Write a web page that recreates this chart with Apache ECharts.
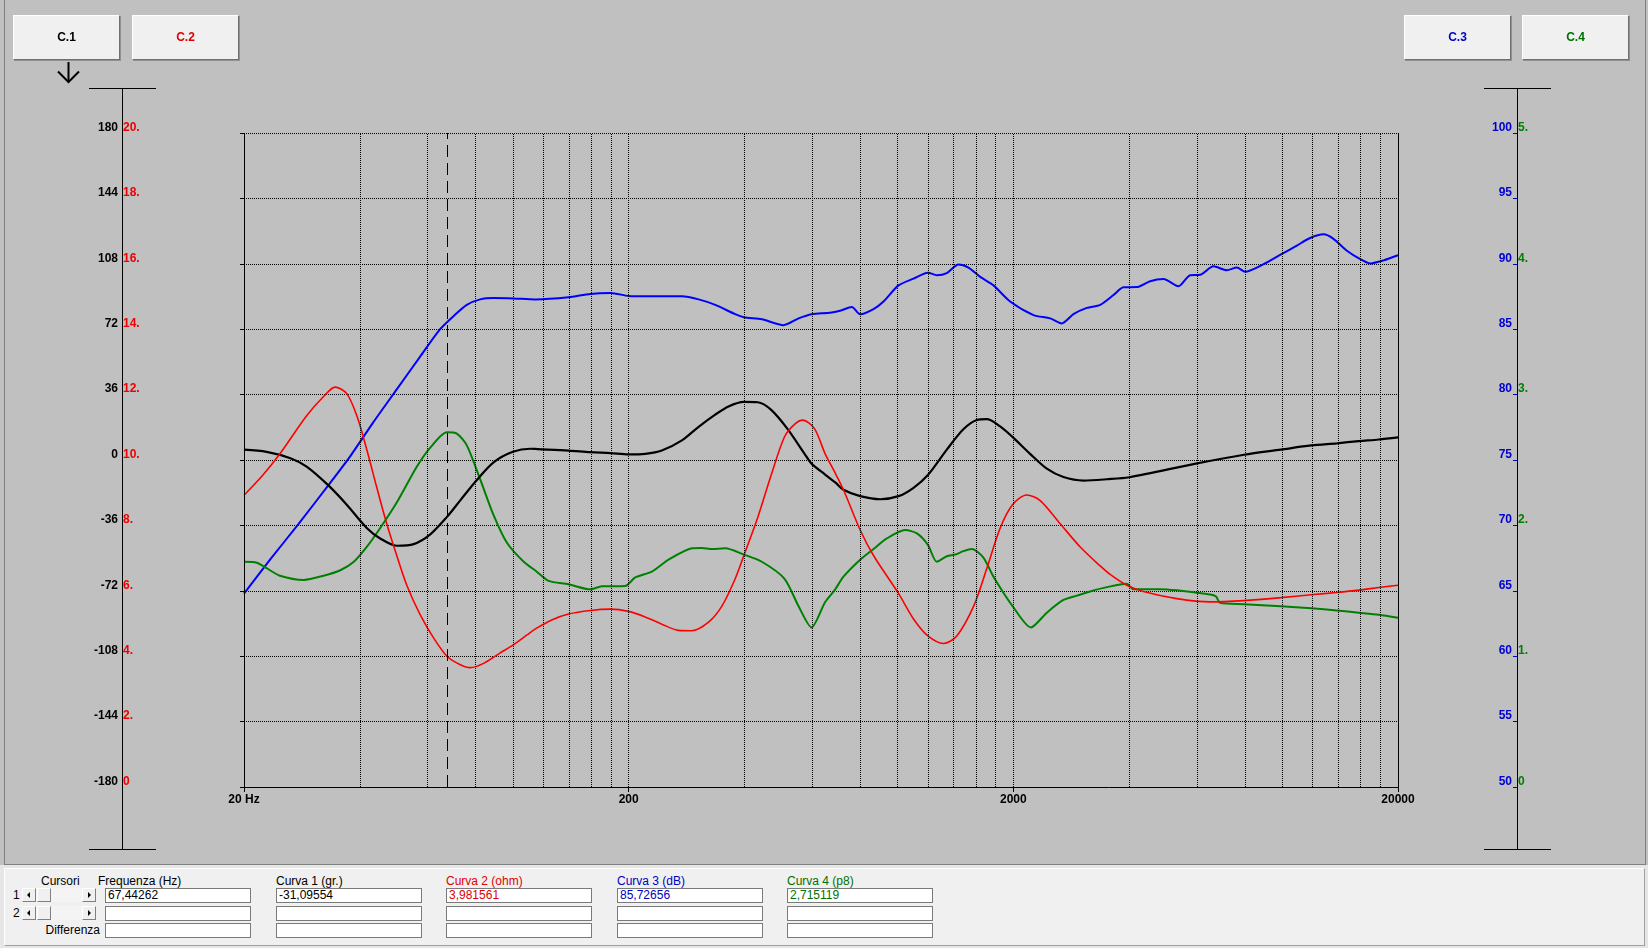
<!DOCTYPE html>
<html>
<head>
<meta charset="utf-8">
<script src="https://cdn.jsdelivr.net/npm/echarts@6/dist/echarts.min.js"></script>
<style>
  html, body { margin:0; padding:0; width:1648px; height:948px; overflow:hidden; background:#c0c0c0; font-family:"Liberation Sans", Arial, sans-serif; }
  #frame { position:absolute; left:4px; top:-1px; width:1642px; height:866px; box-sizing:border-box; border:1px solid #808080; z-index:0; }
  #chart { position:absolute; left:0; top:0; width:1648px; height:948px; z-index:1; }
  .btn { position:absolute; z-index:2; box-sizing:border-box; background:#f0f0f0; border:1px solid; border-color:#ffffff #707070 #707070 #ffffff; box-shadow:1px 1px 0 #909090; font-weight:bold; font-size:12px; text-align:center; }
  #bottomArea { position:absolute; left:0; top:865px; width:1648px; height:83px; background:#e6e6e6; z-index:2; }
  #panel { position:absolute; left:4px; top:3px; width:1641px; height:78px; box-sizing:border-box; background:#f0f0f0; border:1px solid; border-color:#ffffff #a0a0a0 #a0a0a0 #ffffff; }
  .lbl { position:absolute; font-size:12px; white-space:nowrap; line-height:14px; }
  .box { position:absolute; box-sizing:border-box; width:146px; height:15px; background:#fff; border:1px solid #7a7a7a; font-size:12px; line-height:13px; padding-left:2px; white-space:nowrap; }
  .sb { position:absolute; left:17px; width:74px; height:14px; box-sizing:border-box; background:#f4f4f4; }
  .sbb { position:absolute; top:0; width:14px; height:14px; box-sizing:border-box; background:#f0f0f0; border:1px solid; border-color:#fff #808080 #808080 #fff; }
  .tl { position:absolute; left:4px; top:3px; width:0; height:0; border-top:3px solid transparent; border-bottom:3px solid transparent; border-right:3px solid #000; }
  .tr { position:absolute; left:5px; top:3px; width:0; height:0; border-top:3px solid transparent; border-bottom:3px solid transparent; border-left:3px solid #000; }
</style>
</head>
<body>
<div id="frame"></div>
<div id="chart"></div>
<div id="buttons"></div>
<div id="bottomArea"><div id="panel"></div></div>
<script>
// ---------------- DATA ----------------
const xTickLabels = ['20 Hz', '200', '2000', '20000'];
const cursorFreq = 67.44262;

// Curva 1 (gr.) - black
const c1Freq  = [20, 22.9, 26.4, 29.1, 33.2, 37.0, 41.7, 45.2, 49.9, 55.2, 61.0, 67.4, 73.0, 80.0, 89.1, 100, 110.9, 116, 139.5, 158.9, 179.4, 199.9, 220.8, 243.9, 275, 304, 335.8, 363.6, 398.6, 433.3, 469.4, 518.6, 573.3, 597.6, 648, 690, 723.4, 799.6, 901, 1005.9, 1100.5, 1199.5, 1343, 1483, 1607, 1706, 1848, 1989, 2211, 2444, 2699, 3043, 3500, 4000, 5961, 7959, 9917, 11893, 13868, 15815, 17825, 20000];
const c1Phase = [5.7, 4.5, 1.0, -3.6, -14.1, -24.6, -37.4, -43.2, -47.2, -46.3, -40.9, -31.3, -22.2, -11.8, -1.3, 4.5, 6.2, 6.0, 5.2, 4.3, 3.8, 3.1, 3.4, 5.2, 10.8, 18.3, 25.0, 29.5, 32.0, 31.8, 27.6, 16.9, 3.4, -2.0, -8.0, -12.5, -16.4, -19.9, -21.6, -19.9, -15.3, -8.3, 5.7, 16.9, 22.0, 22.5, 18.5, 12.7, 3.4, -4.8, -9.4, -11.3, -10.6, -9.5, -2.0, 2.9, 5.7, 8.0, 9.2, 10.4, 11.3, 12.5];

// Curva 2 (ohm) - red
const c2Freq = [20, 22.4, 24.8, 29.1, 32.2, 34.5, 37.0, 39.3, 41.7, 44.3, 47.0, 49.9, 53.0, 57.4, 62.2, 67.4, 73.0, 77.5, 83.9, 92.7, 100, 108.8, 115, 126.2, 139.5, 158.9, 179.4, 199.9, 220.8, 243.9, 269.6, 292, 322.6, 349.4, 378.4, 398.6, 433.3, 469.4, 508.4, 539.7, 567.3, 608.2, 648.4, 688.6, 723.4, 799.6, 866, 1005.9, 1100.5, 1199.5, 1317, 1426, 1577, 1707, 1849, 1990, 2168, 2349, 2648, 2985, 3364, 3570, 3944, 4356, 5322, 6495, 7959, 9917, 11893, 13868, 15815, 17825, 20000];
const c2Ohm  = [8.92, 9.54, 10.19, 11.35, 11.94, 12.23, 12.03, 11.35, 10.32, 9.15, 8.05, 7.08, 6.17, 5.27, 4.56, 4.0, 3.74, 3.65, 3.78, 4.10, 4.34, 4.65, 4.85, 5.11, 5.29, 5.40, 5.44, 5.37, 5.20, 4.98, 4.79, 4.78, 5.04, 5.53, 6.37, 7.08, 8.25, 9.54, 10.71, 11.09, 11.22, 10.96, 10.19, 9.6, 9.09, 7.86, 7.08, 5.92, 5.14, 4.62, 4.39, 4.62, 5.53, 6.69, 7.92, 8.63, 8.93, 8.76, 8.05, 7.34, 6.76, 6.5, 6.17, 5.98, 5.76, 5.66, 5.70, 5.79, 5.88, 5.95, 6.02, 6.10, 6.17];

// Curva 3 (dB) - blue
const c3Freq = [20, 23.4, 27.7, 33.2, 37.8, 43.4, 49.9, 57.4, 64.7, 70.1, 75.9, 82.2, 89.1, 100.4, 114.3, 139.5, 158.9, 179.4, 199.9, 220.8, 275, 304, 335.8, 378.4, 398.6, 443.9, 505.4, 553, 597.6, 668, 709, 760.6, 799.6, 866, 919.5, 1005.9, 1100.5, 1199.5, 1265, 1343, 1440, 1529, 1640, 1776, 1962, 2257, 2494, 2673, 2866, 3105, 3363, 3642, 3867, 4188, 4536, 4915, 5375, 5763, 6118, 6625, 7178, 7621, 8010, 8942, 9877, 10913, 11818, 12803, 13592, 14730, 15951, 16934, 18346, 20000];
const c3dB  = [64.79, 67.4, 70.1, 73.1, 75.3, 77.9, 80.4, 82.9, 85.0, 86.0, 86.86, 87.28, 87.38, 87.35, 87.28, 87.44, 87.70, 87.77, 87.54, 87.51, 87.51, 87.28, 86.86, 86.15, 85.92, 85.76, 85.31, 85.83, 86.15, 86.25, 86.41, 86.70, 86.15, 86.54, 87.12, 88.35, 88.87, 89.32, 89.13, 89.29, 89.95, 89.71, 89.0, 88.35, 87.12, 86.08, 85.83, 85.44, 86.15, 86.63, 86.86, 87.61, 88.2, 88.22, 88.67, 88.83, 88.28, 89.13, 89.16, 89.81, 89.51, 89.71, 89.39, 89.97, 90.68, 91.39, 91.97, 92.25, 91.91, 91.0, 90.36, 90.03, 90.26, 90.65];

// Curva 4 (p8) - green
const c4Freq = [20, 21.6, 22.9, 24.8, 28.6, 32.2, 35.6, 38.6, 41.7, 45.2, 49.9, 56.3, 61.0, 67.4, 71.5, 75.9, 82.2, 89.1, 96.5, 106.7, 115, 123.8, 139.5, 158.9, 170.3, 195.9, 208, 229.8, 254, 292, 310, 329, 356.4, 398.6, 443.9, 508.4, 553, 597.6, 648.4, 688.6, 723.4, 799.6, 866, 938, 1047, 1123, 1199.5, 1265, 1343, 1412, 1483, 1560, 1672, 1776, 1992, 2222, 2444, 2699, 2923, 3167, 3500, 3944, 4105, 4815, 6495, 6731, 6893, 7959, 9917, 11893, 13868, 15815, 17825, 20000];
const c4p8  = [1.722, 1.715, 1.673, 1.615, 1.583, 1.615, 1.657, 1.722, 1.835, 1.98, 2.175, 2.45, 2.595, 2.712, 2.702, 2.612, 2.353, 2.078, 1.867, 1.722, 1.65, 1.576, 1.55, 1.511, 1.534, 1.537, 1.602, 1.647, 1.738, 1.825, 1.828, 1.819, 1.825, 1.777, 1.722, 1.592, 1.382, 1.220, 1.414, 1.511, 1.608, 1.738, 1.819, 1.9, 1.964, 1.939, 1.851, 1.722, 1.764, 1.777, 1.803, 1.819, 1.754, 1.608, 1.382, 1.22, 1.333, 1.430, 1.463, 1.495, 1.528, 1.553, 1.511, 1.511, 1.472, 1.456, 1.408, 1.398, 1.382, 1.366, 1.350, 1.333, 1.317, 1.294];

// Read-out panel
const panelHeaders = ['Frequenza (Hz)', 'Curva 1 (gr.)', 'Curva 2 (ohm)', 'Curva 3 (dB)', 'Curva 4 (p8)'];
const panelColors  = ['#000000', '#000000', '#e00000', '#0000c0', '#007000'];
const cursor1Values = ['67,44262', '-31,09554', '3,981561', '85,72656', '2,715119'];
const buttonLabels = ['C.1', 'C.2', 'C.3', 'C.4'];
const buttonColors = ['#000000', '#e00000', '#0000c0', '#007000'];

// ---------------- BUILD ----------------
const zip = (xs, ys) => xs.map((x, i) => [x, ys[i]]);

// vertical grid lines at 20*m*10^d
const gridFreqs = [];
[20, 200, 2000].forEach(d => { for (let m = 2; m <= 10; m++) { const f = d * m; if (f < 20000) gridFreqs.push(f); } });

const FONT = '"Liberation Sans", Arial, sans-serif';
const dotStyle = { color: '#000', width: 1, type: [1, 1] };
const LH = 11;

const chart = echarts.init(document.getElementById('chart'), null, { renderer: 'canvas', width: 1648, height: 948 });

const option = {
  animation: false,
  backgroundColor: 'transparent',
  grid: { left: 244, top: 133, right: 250, bottom: 161, containLabel: false },
  xAxis: [
    { type: 'log', logBase: 10, min: 20, max: 20000, position: 'bottom',
      axisLine: { show: true, onZero: false, lineStyle: { color: '#000', width: 1 } },
      axisTick: { show: false }, axisLabel: { show: false }, splitLine: { show: false } },
    { type: 'value', min: 0, max: 3, interval: 1, position: 'bottom',
      axisLine: { show: false, onZero: false },
      axisTick: { show: true, length: 5, lineStyle: { color: '#000' } },
      axisLabel: { show: true, margin: 7, color: '#000', fontFamily: FONT, fontWeight: 'bold', fontSize: 12,
        formatter: v => xTickLabels[Math.round(v)] },
      splitLine: { show: false } }
  ],
  yAxis: [
    { type: 'value', min: -180, max: 180, interval: 36, position: 'left', offset: 122,
      axisLine: { show: false },
      axisTick: { show: true, length: 4, lineStyle: { color: '#000' } },
      axisLabel: { margin: 4, color: '#000', fontFamily: FONT, fontWeight: 'bold', fontSize: 12, verticalAlign: 'bottom', lineHeight: LH },
      splitLine: { show: true, lineStyle: dotStyle } },
    { type: 'value', min: 0, max: 20, interval: 2, position: 'left', offset: 122,
      axisLine: { show: false }, axisTick: { show: false },
      axisLabel: { inside: true, margin: 1, color: '#f00000', fontFamily: FONT, fontWeight: 'bold', fontSize: 12, verticalAlign: 'bottom', lineHeight: LH,
        formatter: v => v === 0 ? '0' : v + '.' },
      splitLine: { show: false } },
    { type: 'value', min: 50, max: 100, interval: 5, position: 'right', offset: 119,
      axisLine: { show: false },
      axisTick: { show: true, inside: true, length: 4, lineStyle: { color: '#0000c0' } },
      axisLabel: { inside: true, margin: 5, color: '#0000d0', fontFamily: FONT, fontWeight: 'bold', fontSize: 12, verticalAlign: 'bottom', lineHeight: LH },
      splitLine: { show: false } },
    { type: 'value', min: 0, max: 5, interval: 1, position: 'right', offset: 119,
      axisLine: { show: false }, axisTick: { show: false },
      axisLabel: { margin: 1, color: '#008000', fontFamily: FONT, fontWeight: 'bold', fontSize: 12, verticalAlign: 'bottom', lineHeight: LH,
        formatter: v => v === 0 ? '0' : v + '.' },
      splitLine: { show: false } }
  ],
  series: [
    { name: 'grid', type: 'line', xAxisIndex: 0, yAxisIndex: 0, data: [[20, -180]], showSymbol: false, symbol: 'none',
      lineStyle: { opacity: 0 }, clip: false, z: 1, silent: true,
      markLine: { silent: true, symbol: 'none', label: { show: false }, animation: false,
        data: gridFreqs.map(f => ({ xAxis: f, lineStyle: dotStyle }))
          .concat([{ xAxis: 20, lineStyle: { color: '#000', width: 1, type: 'solid' } },
                   { xAxis: 20000, lineStyle: { color: '#000', width: 1, type: 'solid' } },
                   { xAxis: cursorFreq, lineStyle: { color: '#000', width: 1, type: [12, 6] } }]) } },
    { name: 'Curva 3 (dB)', type: 'line', xAxisIndex: 0, yAxisIndex: 2, data: zip(c3Freq, c3dB), showSymbol: false, symbol: 'none',
      smooth: 0.25, lineStyle: { color: '#0000ff', width: 2 }, z: 3 },
    { name: 'Curva 4 (p8)', type: 'line', xAxisIndex: 0, yAxisIndex: 3, data: zip(c4Freq, c4p8), showSymbol: false, symbol: 'none',
      smooth: 0.25, lineStyle: { color: '#008000', width: 2 }, z: 3 },
    { name: 'Curva 1 (gr.)', type: 'line', xAxisIndex: 0, yAxisIndex: 0, data: zip(c1Freq, c1Phase), showSymbol: false, symbol: 'none',
      smooth: 0.3, lineStyle: { color: '#000000', width: 2.2 }, z: 4 },
    { name: 'Curva 2 (ohm)', type: 'line', xAxisIndex: 0, yAxisIndex: 1, data: zip(c2Freq, c2Ohm), showSymbol: false, symbol: 'none',
      smooth: 0.3, lineStyle: { color: '#ff0000', width: 1.6 }, z: 4 }
  ],
  graphic: [
    { type: 'line', shape: { x1: 122.5, y1: 88.5, x2: 122.5, y2: 849.5 }, style: { stroke: '#000', lineWidth: 1 }, silent: true },
    { type: 'line', shape: { x1: 89, y1: 88.5, x2: 156, y2: 88.5 }, style: { stroke: '#000', lineWidth: 1 }, silent: true },
    { type: 'line', shape: { x1: 89, y1: 849.5, x2: 156, y2: 849.5 }, style: { stroke: '#000', lineWidth: 1 }, silent: true },
    { type: 'line', shape: { x1: 1517.5, y1: 88.5, x2: 1517.5, y2: 849.5 }, style: { stroke: '#000', lineWidth: 1 }, silent: true },
    { type: 'line', shape: { x1: 1484, y1: 88.5, x2: 1551, y2: 88.5 }, style: { stroke: '#000', lineWidth: 1 }, silent: true },
    { type: 'line', shape: { x1: 1484, y1: 849.5, x2: 1551, y2: 849.5 }, style: { stroke: '#000', lineWidth: 1 }, silent: true },
    { type: 'line', shape: { x1: 68.5, y1: 62, x2: 68.5, y2: 82 }, style: { stroke: '#000', lineWidth: 2 }, silent: true },
    { type: 'polyline', shape: { points: [[58, 71.5], [68.5, 82], [79, 71.5]] }, style: { stroke: '#000', lineWidth: 2, fill: null }, silent: true }
  ]
};
chart.setOption(option);

// ---------------- HTML widgets ----------------
const btnPos = [[13, 15], [132, 15], [1404, 15], [1522, 15]];
const bdiv = document.getElementById('buttons');
buttonLabels.forEach((t, i) => {
  const d = document.createElement('div');
  d.className = 'btn';
  d.style.left = btnPos[i][0] + 'px'; d.style.top = btnPos[i][1] + 'px';
  d.style.width = '107px'; d.style.height = '45px'; d.style.lineHeight = '43px';
  d.style.color = buttonColors[i];
  d.textContent = t;
  bdiv.appendChild(d);
});

const panel = document.getElementById('panel');
function addLbl(text, left, top, color, align) {
  const d = document.createElement('div');
  d.className = 'lbl'; d.textContent = text; d.style.top = top + 'px'; d.style.color = color || '#000';
  if (align === 'right') { d.style.right = (1641 - left) + 'px'; } else { d.style.left = left + 'px'; }
  panel.appendChild(d);
}
const colX = [100, 271, 441, 612, 782];
const rowY = [19, 37, 54];
addLbl('Cursori', 36, 5);
panelHeaders.forEach((h, i) => addLbl(h, i === 0 ? 93 : colX[i], 5, panelColors[i]));
addLbl('1', 8, rowY[0]);
addLbl('2', 8, rowY[1]);
addLbl('Differenza', 97, rowY[2], '#000', 'right');
for (let r = 0; r < 3; r++) {
  colX.forEach((x, i) => {
    const b = document.createElement('div');
    b.className = 'box';
    b.style.left = x + 'px'; b.style.top = rowY[r] + 'px';
    if (r === 0) { b.textContent = cursor1Values[i]; b.style.color = panelColors[i]; }
    panel.appendChild(b);
  });
}
for (let r = 0; r < 2; r++) {
  const sb = document.createElement('div');
  sb.className = 'sb'; sb.style.top = rowY[r] + 'px';
  sb.innerHTML = '<div class="sbb" style="left:0"><div class="tl"></div></div>' +
                 '<div class="sbb" style="left:15px"></div>' +
                 '<div class="sbb" style="left:60px"><div class="tr"></div></div>';
  panel.appendChild(sb);
}
</script>
</body>
</html>
